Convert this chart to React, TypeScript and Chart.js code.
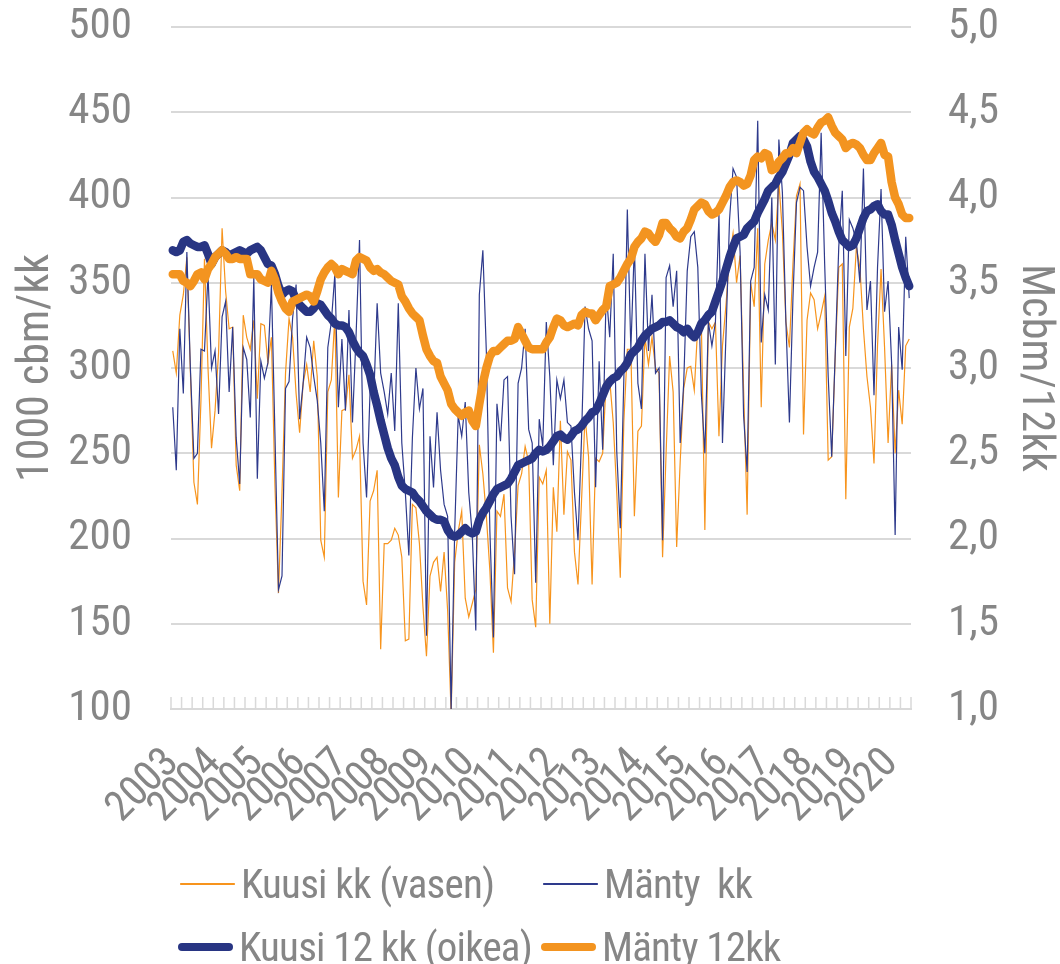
import React, { useEffect, useRef } from 'react';
import { Chart, registerables } from 'chart.js';

Chart.register(...registerables);

// ---------- DATA ----------
const firstYear = 2003;
const monthCount = 210; // Jan 2003 .. Jun 2020
const categories: string[] = Array.from({ length: monthCount }, (_, i) => {
  const y = firstYear + Math.floor(i / 12);
  const m = (i % 12) + 1;
  return `${y}-${m < 10 ? '0' + m : m}`;
});
const yearLabels = ['2003', '2004', '2005', '2006', '2007', '2008', '2009', '2010', '2011', '2012', '2013', '2014', '2015', '2016', '2017', '2018', '2019', '2020'];

// Kuusi kk (vasen), 1000 cbm / month
const kuusiKk = [
  310, 297, 331, 343, 365, 298, 233, 220, 281, 364,
  300, 253, 275, 309, 382, 345, 323, 324, 243, 228,
  331, 318, 311, 328, 282, 326, 325, 303, 318, 231,
  168, 227, 297, 329, 318, 285, 262, 291, 302, 286,
  316, 295, 199, 189, 286, 293, 330, 224, 275, 276,
  296, 247, 252, 260, 175, 161, 222, 228, 240, 135,
  197, 197, 199, 206, 202, 189, 140, 141, 220, 218,
  197, 160, 131, 178, 186, 189, 169, 192, 158, 97,
  186, 204, 216, 165, 154, 162, 170, 255, 238, 213,
  181, 133, 216, 213, 226, 171, 163, 192, 231, 238,
  254, 245, 164, 148, 236, 232, 240, 150, 230, 204,
  269, 214, 251, 246, 192, 173, 222, 272, 248, 173,
  247, 245, 250, 293, 293, 268, 227, 177, 268, 311,
  311, 213, 263, 266, 318, 302, 318, 300, 297, 189,
  250, 307, 286, 195, 245, 288, 300, 301, 287, 325,
  327, 205, 327, 323, 327, 260, 313, 337, 366, 379,
  350, 366, 287, 214, 350, 336, 382, 277, 361, 375,
  385, 375, 409, 380, 327, 312, 361, 401, 408, 261,
  328, 344, 340, 323, 332, 342, 246, 248, 307, 359,
  361, 223, 324, 335, 371, 359, 323, 295, 277, 244,
  313, 358, 312, 256, 302, 250, 287, 267, 313, 317,
];

// Mänty kk, 1000 cbm / month
const mantyKk = [
  277, 240, 323, 285, 368, 300, 247, 250, 311, 310,
  355, 300, 310, 273, 330, 339, 286, 324, 259, 232,
  312, 305, 271, 353, 235, 304, 294, 303, 349, 261,
  170, 178, 288, 292, 329, 349, 270, 291, 318, 312,
  295, 281, 256, 216, 312, 327, 355, 277, 317, 275,
  334, 268, 318, 375, 256, 224, 287, 281, 338, 297,
  286, 273, 297, 263, 338, 256, 227, 190, 259, 300,
  276, 288, 143, 260, 230, 274, 240, 220, 213, 100,
  204, 272, 260, 280, 227, 202, 146, 343, 369, 309,
  204, 142, 279, 257, 293, 295, 213, 179, 291, 300,
  323, 264, 256, 174, 270, 254, 327, 295, 243, 293,
  282, 293, 268, 266, 227, 199, 259, 336, 323, 316,
  230, 304, 252, 345, 318, 367, 251, 206, 293, 393,
  311, 372, 291, 276, 367, 310, 343, 297, 300, 199,
  353, 360, 336, 357, 256, 291, 357, 377, 380, 359,
  285, 250, 327, 313, 327, 390, 256, 320, 387, 417,
  412, 368, 272, 239, 351, 359, 445, 315, 343, 334,
  400, 302, 434, 403, 327, 268, 341, 397, 406, 404,
  371, 348, 359, 368, 438, 361, 295, 248, 309, 371,
  404, 307, 387, 382, 374, 350, 417, 334, 351, 284,
  359, 405, 333, 351, 303, 202, 324, 299, 377, 341,
];

// Kuusi 12 kk (oikea), Mcbm / 12 months
const kuusi12kk = [
  3.69, 3.68, 3.69, 3.74, 3.75, 3.73, 3.72, 3.71, 3.71, 3.72,
  3.67, 3.61, 3.65, 3.67, 3.69, 3.68, 3.66, 3.67, 3.68, 3.69,
  3.68, 3.67, 3.69, 3.70, 3.71, 3.69, 3.65, 3.61, 3.60, 3.55,
  3.48, 3.43, 3.45, 3.46, 3.45, 3.40, 3.37, 3.35, 3.33, 3.33,
  3.35, 3.38, 3.37, 3.34, 3.31, 3.29, 3.26, 3.25, 3.25, 3.24,
  3.21, 3.16, 3.12, 3.09, 3.07, 3.02, 2.96, 2.86, 2.78, 2.69,
  2.61, 2.53, 2.47, 2.43, 2.36, 2.31, 2.29, 2.28, 2.27, 2.24,
  2.22, 2.19, 2.16, 2.14, 2.12, 2.11, 2.11, 2.10, 2.05, 2.02,
  2.01, 2.02, 2.04, 2.06, 2.04, 2.03, 2.04, 2.11, 2.15, 2.18,
  2.22, 2.26, 2.29, 2.30, 2.31, 2.32, 2.35, 2.39, 2.43, 2.44,
  2.45, 2.46, 2.47, 2.50, 2.52, 2.51, 2.52, 2.54, 2.57, 2.60,
  2.61, 2.59, 2.58, 2.60, 2.63, 2.64, 2.66, 2.69, 2.71, 2.74,
  2.75, 2.79, 2.84, 2.89, 2.92, 2.94, 2.95, 2.98, 3.00, 3.03,
  3.08, 3.10, 3.12, 3.16, 3.19, 3.21, 3.23, 3.24, 3.25, 3.27,
  3.27, 3.28, 3.26, 3.24, 3.23, 3.21, 3.23, 3.20, 3.18, 3.21,
  3.26, 3.28, 3.31, 3.33, 3.39, 3.45, 3.51, 3.58, 3.65, 3.71,
  3.76, 3.77, 3.78, 3.82, 3.84, 3.86, 3.91, 3.95, 3.99, 4.04,
  4.06, 4.08, 4.12, 4.15, 4.20, 4.25, 4.32, 4.34, 4.36, 4.34,
  4.30, 4.21, 4.15, 4.12, 4.08, 4.04, 3.98, 3.91, 3.86, 3.80,
  3.75, 3.73, 3.71, 3.72, 3.76, 3.82, 3.88, 3.92, 3.93, 3.95,
  3.96, 3.92, 3.90, 3.90, 3.84, 3.75, 3.67, 3.59, 3.53, 3.48,
];

// Mänty 12kk, Mcbm / 12 months
const manty12kk = [
  3.55, 3.55, 3.55, 3.51, 3.50, 3.48, 3.51, 3.55, 3.56, 3.52,
  3.58, 3.61, 3.65, 3.67, 3.69, 3.67, 3.64, 3.64, 3.65, 3.64,
  3.64, 3.64, 3.55, 3.55, 3.55, 3.52, 3.51, 3.50, 3.57, 3.52,
  3.44, 3.39, 3.35, 3.33, 3.39, 3.40, 3.41, 3.42, 3.43, 3.42,
  3.39, 3.45, 3.52, 3.56, 3.59, 3.61, 3.59, 3.55, 3.58, 3.57,
  3.56, 3.55, 3.63, 3.65, 3.64, 3.63, 3.59, 3.57, 3.58, 3.56,
  3.55, 3.53, 3.51, 3.50, 3.49, 3.42, 3.39, 3.35, 3.32, 3.30,
  3.28, 3.19, 3.11, 3.07, 3.04, 3.03, 2.95, 2.91, 2.87, 2.79,
  2.76, 2.74, 2.72, 2.74, 2.75, 2.69, 2.66, 2.79, 2.91, 3.00,
  3.07, 3.10, 3.10, 3.12, 3.14, 3.16, 3.16, 3.17, 3.24, 3.20,
  3.16, 3.12, 3.11, 3.11, 3.11, 3.11, 3.15, 3.18, 3.24, 3.29,
  3.28, 3.25, 3.24, 3.25, 3.26, 3.25, 3.31, 3.33, 3.32, 3.32,
  3.28, 3.31, 3.34, 3.36, 3.48, 3.49, 3.50, 3.53, 3.57, 3.61,
  3.64, 3.71, 3.74, 3.76, 3.80, 3.79, 3.76, 3.74, 3.78, 3.85,
  3.85, 3.82, 3.80, 3.77, 3.76, 3.80, 3.82, 3.87, 3.93, 3.95,
  3.97, 3.96, 3.92, 3.90, 3.91, 3.93, 3.97, 4.01, 4.06, 4.09,
  4.10, 4.09, 4.07, 4.08, 4.13, 4.22, 4.24, 4.23, 4.26, 4.25,
  4.16, 4.17, 4.21, 4.23, 4.26, 4.26, 4.29, 4.26, 4.32, 4.38,
  4.40, 4.38, 4.37, 4.41, 4.44, 4.45, 4.47, 4.42, 4.38, 4.36,
  4.34, 4.29, 4.31, 4.32, 4.31, 4.29, 4.25, 4.22, 4.22, 4.26,
  4.29, 4.32, 4.25, 4.24, 4.09, 4.00, 3.96, 3.90, 3.88, 3.88,
];

const leftTicks = { min: 100, max: 500, step: 50 };
const rightTicks = { min: 1.0, max: 5.0, step: 0.5 };

// ---------- STYLE ----------
const ORANGE = '#F39420';
const NAVY = '#283583';
const THIN_ORANGE = '#F7941D';
const THIN_NAVY = '#2E3A8C';
const TEXT = '#868686';
const GRID = '#d9d9d9';
const FONT = '"Roboto Condensed", "Liberation Sans", Arial, sans-serif';

const tickMarks = {
  id: 'tickMarks',
  beforeDatasetsDraw(chart: any) {
    const { ctx, chartArea, scales } = chart;
    const x = scales.x;
    const n = categories.length;
    const w = (chartArea.right - chartArea.left) / n;
    ctx.save();
    ctx.strokeStyle = GRID;
    ctx.lineWidth = 1.5;
    for (let i = 0; i <= n; i += 3) {
      const px = i < n ? x.getPixelForValue(i) - w / 2 : x.getPixelForValue(n - 1) + w / 2;
      ctx.beginPath();
      ctx.moveTo(px, chartArea.bottom);
      ctx.lineTo(px, chartArea.bottom - 12);
      ctx.stroke();
    }
    ctx.restore();
  },
};

const legendRows = [
  [
    { label: 'Kuusi kk (vasen)', color: THIN_ORANGE, thick: 1.5, left: 180 },
    { label: 'Mänty  kk', color: THIN_NAVY, thick: 1.5, left: 543 },
  ],
  [
    { label: 'Kuusi 12 kk (oikea)', color: NAVY, thick: 8, left: 178 },
    { label: 'Mänty 12kk', color: ORANGE, thick: 8, left: 541 },
  ],
];
const legendRowCenters = [884, 947];

export default function App() {
  const canvasRef = useRef<HTMLCanvasElement | null>(null);

  useEffect(() => {
    const canvas = canvasRef.current;
    if (!canvas) return;
    const chart = new Chart(canvas, {
      type: 'line',
      data: {
        labels: categories,
        datasets: [
          {
            label: 'Mänty 12kk',
            data: manty12kk,
            yAxisID: 'y1',
            borderColor: ORANGE,
            backgroundColor: ORANGE,
            borderWidth: 8.5,
            pointRadius: 0,
            tension: 0,
            borderCapStyle: 'round',
            borderJoinStyle: 'round',
            order: 0,
          },
          {
            label: 'Kuusi 12 kk (oikea)',
            data: kuusi12kk,
            yAxisID: 'y1',
            borderColor: NAVY,
            backgroundColor: NAVY,
            borderWidth: 8.5,
            pointRadius: 0,
            tension: 0,
            borderCapStyle: 'round',
            borderJoinStyle: 'round',
            order: 1,
          },
          {
            label: 'Mänty  kk',
            data: mantyKk,
            yAxisID: 'y',
            borderColor: THIN_NAVY,
            backgroundColor: THIN_NAVY,
            borderWidth: 1.2,
            pointRadius: 0,
            tension: 0,
            order: 2,
          },
          {
            label: 'Kuusi kk (vasen)',
            data: kuusiKk,
            yAxisID: 'y',
            borderColor: THIN_ORANGE,
            backgroundColor: THIN_ORANGE,
            borderWidth: 1.2,
            pointRadius: 0,
            tension: 0,
            order: 3,
          },
        ],
      },
      options: {
        responsive: false,
        animation: false,
        devicePixelRatio: 1,
        layout: { padding: { top: 27, left: 0, right: 0, bottom: 0 } },
        plugins: {
          legend: { display: false },
          tooltip: { enabled: false },
        },
        scales: {
          x: {
            type: 'category',
            offset: true,
            grid: { display: true, drawOnChartArea: false, drawTicks: false },
            border: { display: true, color: GRID, width: 2 },
            ticks: {
              autoSkip: false,
              maxRotation: 45,
              minRotation: 45,
              padding: 30,
              color: TEXT,
              font: { family: FONT, size: 42 },
              callback: (_v: any, i: number) => (i % 12 === 0 ? yearLabels[i / 12] : ''),
            },
            afterFit: (s: any) => {
              s.height = 255;
            },
          },
          y: {
            position: 'left',
            min: leftTicks.min,
            max: leftTicks.max,
            grid: { color: GRID, lineWidth: 2, drawTicks: true, tickLength: 39, tickColor: 'rgba(0,0,0,0)' },
            border: { display: false },
            ticks: {
              stepSize: leftTicks.step,
              padding: 0,
              color: TEXT,
              font: { family: FONT, size: 43 },
            },
            title: {
              display: true,
              text: '1000 cbm/kk',
              color: TEXT,
              font: { family: FONT, size: 44 },
              padding: { top: 11, bottom: 0 },
            },
            afterFit: (s: any) => {
              s.width = 171;
            },
          },
          y1: {
            position: 'right',
            min: rightTicks.min,
            max: rightTicks.max,
            grid: { drawOnChartArea: false, drawTicks: true, tickLength: 37, tickColor: 'rgba(0,0,0,0)' },
            border: { display: false },
            ticks: {
              stepSize: rightTicks.step,
              padding: 0,
              color: TEXT,
              font: { family: FONT, size: 43 },
              callback: (v: any) => Number(v).toFixed(1).replace('.', ','),
            },
            title: {
              display: true,
              text: 'Mcbm/12kk',
              color: TEXT,
              font: { family: FONT, size: 44 },
              padding: { top: 0, bottom: 0 },
            },
            afterFit: (s: any) => {
              s.width = 149;
            },
          },
        },
      } as any,
      plugins: [tickMarks],
    });
    return () => chart.destroy();
  }, []);

  return (
    <div style={{ position: 'absolute', left: 0, top: 0, width: 1060, height: 964, background: '#fff', overflow: 'hidden' }}>
      <canvas ref={canvasRef} width={1060} height={964} style={{ width: 1060, height: 964, display: 'block' }} />
      {legendRows.map((row, r) =>
        row.map((item, k) => (
          <div
            key={`${r}-${k}`}
            style={{
              position: 'absolute',
              left: item.left,
              top: legendRowCenters[r] - 25,
              height: 50,
              display: 'flex',
              alignItems: 'center',
              whiteSpace: 'pre',
              fontFamily: FONT,
              fontSize: 41,
              letterSpacing: '-0.8px',
              color: TEXT,
            }}
          >
            <span
              style={{
                display: 'inline-block',
                width: 55,
                height: item.thick,
                background: item.color,
                borderRadius: item.thick / 2,
                marginRight: 6,
              }}
            />
            <span style={{ lineHeight: '50px' }}>{item.label}</span>
          </div>
        ))
      )}
    </div>
  );
}
